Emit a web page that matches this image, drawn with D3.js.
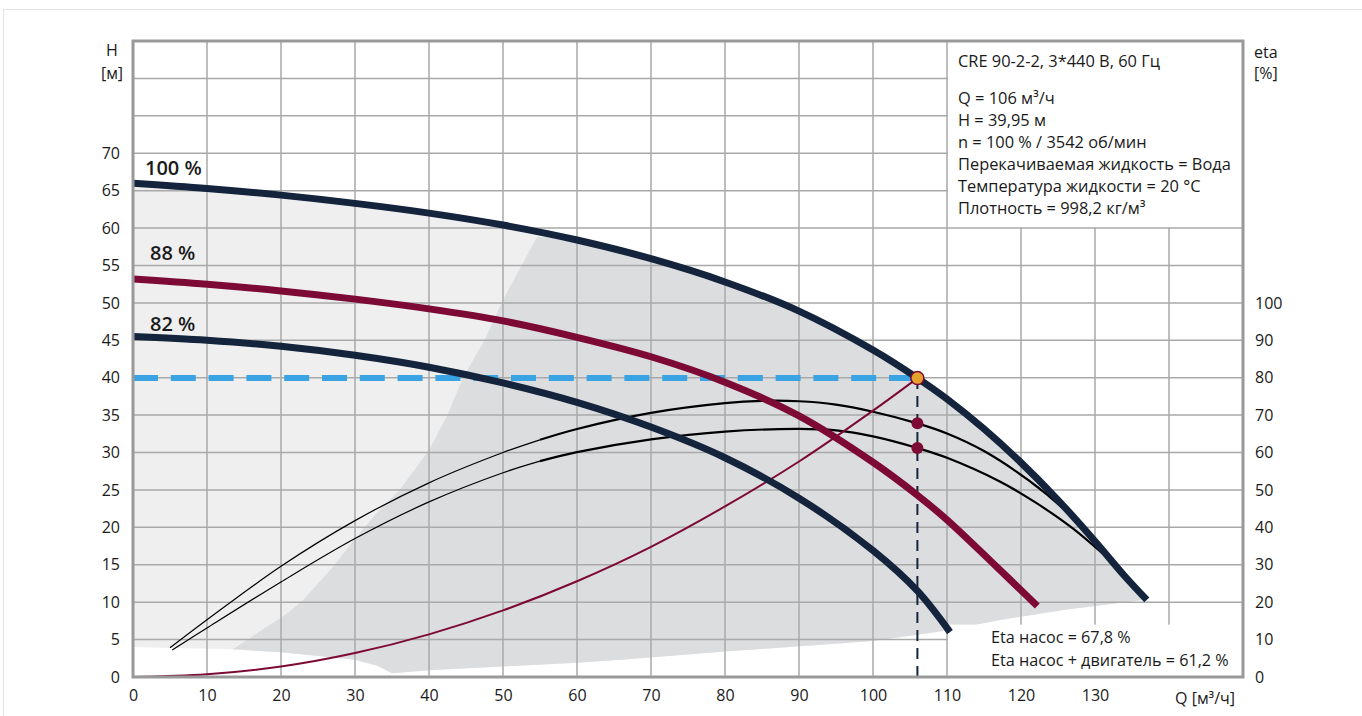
<!DOCTYPE html>
<html>
<head>
<meta charset="utf-8">
<script src="https://cdn.jsdelivr.net/npm/d3@7"></script>
<style>
body { margin: 0; background: #fff; }
svg { display: block; font-family: "Open Sans", sans-serif; }
</style>
</head>
<body>
<svg width="1362" height="716"></svg>
<script>
// tick labels
var qTicks = [0, 10, 20, 30, 40, 50, 60, 70, 80, 90, 100, 110, 120, 130];
var hTicks = [0, 5, 10, 15, 20, 25, 30, 35, 40, 45, 50, 55, 60, 65, 70];
var etaTicks = [0, 10, 20, 30, 40, 50, 60, 70, 80, 90, 100];

// pump curves [Q, H]
var h100 = [[0,66],[10,65.3],[20,64.4],[30,63.3],[40,62],[50,60.4],[60,58.4],[70,55.9],[80,52.8],[90,48.9],[100,43.7],[106,39.95],[110,37.15],[115,33.15],[120,28.65],[125,23.65],[130,18.15],[134,13.5],[137,10.3]];
var h88 = [[0,53.2],[10,52.5],[20,51.6],[30,50.5],[40,49.2],[50,47.6],[60,45.4],[70,42.8],[80,39.4],[90,34.9],[100,28.7],[106,24.3],[110,21],[116,15.4],[122.2,9.5]];
var h82 = [[0,45.5],[10,45],[20,44.2],[30,43],[40,41.4],[50,39.3],[60,36.7],[70,33.4],[80,29.3],[90,23.9],[100,16.9],[106,11.5],[110.4,6]];

// efficiency curves [Q, eta %]
var etaPump = [[5,7.8],[10,15.3],[20,29.6],[30,41.8],[40,51.9],[50,60],[55,63.4],[60,66.3],[70,70.6],[80,73.2],[85,73.8],[90,73.7],[95,72.8],[100,70.9],[106,67.8],[110,65.1],[115,60.4],[121,52.6],[126,44.5],[130,36.3],[133,29.8]];
var etaTotal = [[5.3,7.2],[10,13.1],[20,25.4],[30,37],[40,46.8],[50,54.6],[55,57.7],[60,60.1],[70,63.5],[80,65.6],[90,66.3],[95,65.9],[100,64.3],[106,61.2],[110,58.6],[117.2,52.2],[122,46.6],[127,39.7],[133,29.5]];

// system curve [Q, H]
var system = [[0,0],[10,0.36],[20,1.4],[30,3.2],[40,5.7],[50,8.9],[60,12.8],[70,17.4],[80,22.8],[90,28.8],[100,35.6],[106,39.95]];

// operating point
var duty = { q: 106, h: 39.95, etaPump: 67.8, etaTotal: 61.2 };

// shaded operating ranges [Q, H]
var grayBottom = [[136.5,10.3],[126,9],[117,7.6],[110,6.2],[100,4.8],[80,3.4],[66,2.3],[60,1.9],[50,1.4],[40,0.9],[35,0.5]];
var whiteEdge = [[33,1.5],[30,2.3],[26,2.7],[20,3.3],[13.5,3.7],[0,4]];
var darkEdge = [[13.5,3.7],[17,6],[20.8,8.5],[23,10.3],[27,14.7],[30,18.5],[33,22],[36,25],[40,30.3],[42.5,35],[44.6,40],[47.5,45],[50,50.4],[52.5,55],[54.6,58.8]];

var speedLabels = ["100 %", "88 %", "82 %"];
var infoLines = ["Q = 106 м³/ч", "H = 39,95 м", "n = 100 % / 3542 об/мин", "Перекачиваемая жидкость = Вода", "Температура жидкости = 20 °C", "Плотность = 998,2 кг/м³"];

var navy = "#14243c", crimson = "#7d0a34";

var svg = d3.select("svg");
var x = d3.scaleLinear().domain([0, 150]).range([133, 1243]);
var y = d3.scaleLinear().domain([0, 85]).range([677, 41]);
var yEta = d3.scaleLinear().domain([0, 170]).range([677, 41]);

var smooth = d3.line().x(d => x(d[0])).y(d => y(d[1])).curve(d3.curveCatmullRom.alpha(0.5));
var smoothEta = d3.line().x(d => x(d[0])).y(d => yEta(d[1])).curve(d3.curveCatmullRom.alpha(0.5));
var straight = d3.line().x(d => x(d[0])).y(d => y(d[1]));

svg.append("rect").attr("x", 3.5).attr("y", 9.5).attr("width", 1400).attr("height", 800)
	.attr("fill", "#fff").attr("stroke", "#e4e4e2");

// gray areas
svg.append("path")
	.attr("d", smooth(h100) + "L" + straight(grayBottom.concat(whiteEdge)).slice(1) + "Z")
	.attr("fill", "#efefef");
var darkTop = [[54.6, 58.8]].concat(h100.filter(d => d[0] > 57));
svg.append("path")
	.attr("d", smooth(darkTop) + "L" + straight(grayBottom.concat(whiteEdge.filter(d => d[0] >= 13.5))).slice(1)
		+ "L" + straight(darkEdge).slice(1) + "Z")
	.attr("fill", "#dcdddf");

// grid
var grid = svg.append("g").attr("stroke", "#a9a9a9").attr("stroke-width", 1.5);
grid.selectAll(".vg").data(d3.range(10, 150, 10)).enter().append("line")
	.attr("x1", d => x(d)).attr("x2", d => x(d)).attr("y1", y(0)).attr("y2", y(85));
grid.selectAll(".hg").data(d3.range(5, 85, 5)).enter().append("line")
	.attr("x1", x(0)).attr("x2", x(150)).attr("y1", d => y(d)).attr("y2", d => y(d));

// info boxes
svg.append("rect").attr("x", x(110) + 1).attr("y", y(85)).attr("width", x(150) - x(110) - 1).attr("height", y(60) - y(85) - 1).attr("fill", "#fff");
svg.append("rect").attr("x", x(110) + 1).attr("y", y(7)).attr("width", x(150) - x(110) - 1).attr("height", y(0) - y(7)).attr("fill", "#fff");

// duty dashed lines
svg.append("line").attr("x1", x(0)).attr("x2", x(duty.q)).attr("y1", y(duty.h)).attr("y2", y(duty.h))
	.attr("stroke", "#3aa3e3").attr("stroke-width", 6).attr("stroke-dasharray", "25,12.8");
svg.append("line").attr("x1", x(duty.q)).attr("x2", x(duty.q)).attr("y1", y(duty.h)).attr("y2", y(0))
	.attr("stroke", navy).attr("stroke-width", 2).attr("stroke-dasharray", "11,7");

// efficiency curves: thin start, heavier tail
[etaPump, etaTotal].forEach(s => {
	svg.append("path").attr("d", smoothEta(s.filter(d => d[0] <= 55))).attr("fill", "none").attr("stroke", "#000").attr("stroke-width", 1.2);
	svg.append("path").attr("d", smoothEta(s.filter(d => d[0] >= 55))).attr("fill", "none").attr("stroke", "#000").attr("stroke-width", 2.2);
});

svg.append("path").attr("d", smooth(system)).attr("fill", "none").attr("stroke", crimson).attr("stroke-width", 2);

// pump curves
[[h100, navy], [h88, crimson], [h82, navy]].forEach(c => {
	svg.append("path").attr("d", smooth(c[0])).attr("fill", "none")
		.attr("stroke", c[1]).attr("stroke-width", 7);
});

// points
svg.selectAll(".ep").data([duty.etaPump, duty.etaTotal]).enter().append("circle")
	.attr("cx", x(duty.q)).attr("cy", d => yEta(d)).attr("r", 6).attr("fill", crimson);
svg.append("circle").attr("cx", x(duty.q)).attr("cy", y(duty.h)).attr("r", 6.5)
	.attr("fill", "#e5a12c").attr("stroke", crimson).attr("stroke-width", 1.5);

// frame
svg.append("rect").attr("x", x(0)).attr("y", y(85)).attr("width", x(150) - x(0)).attr("height", y(0) - y(85))
	.attr("fill", "none").attr("stroke", "#999").attr("stroke-width", 3);

// axes
var fs = "16px";
var ax = svg.append("g").attr("transform", "translate(0," + y(0) + ")")
	.call(d3.axisBottom(x).tickValues(qTicks).tickSize(0).tickPadding(13));
var ay = svg.append("g").attr("transform", "translate(" + x(0) + ",0)")
	.call(d3.axisLeft(y).tickValues(hTicks).tickSize(0).tickPadding(13));
var ae = svg.append("g").attr("transform", "translate(" + x(150) + ",0)")
	.call(d3.axisRight(yEta).tickValues(etaTicks).tickSize(0).tickPadding(12));
[ax, ay, ae].forEach(a => {
	a.select(".domain").remove();
	a.selectAll("text").attr("font-size", fs).attr("fill", "#1a1a1a").attr("font-family", "Open Sans");
});

function label(tx, ty, t, size, anchor, weight) {
	svg.append("text").attr("x", tx).attr("y", ty).attr("font-size", size || fs)
		.attr("font-weight", weight || 400)
		.attr("text-anchor", anchor || "start").attr("fill", "#1a1a1a").text(t);
}
label(112, 56, "H", fs, "middle");
label(112, 79, "[м]", fs, "middle");
label(1254, 58, "eta");
label(1254, 79, "[%]");
label(1235, 704, "Q [м³/ч]", fs, "end");

label(145, 175, speedLabels[0], "20px", "start", 600);
label(150, 260, speedLabels[1], "20px", "start", 600);
label(150, 331, speedLabels[2], "20px", "start", 600);

label(958, 67, "CRE 90-2-2, 3*440 В, 60 Гц", "16.4px");
infoLines.forEach((t, i) => label(958, 104 + i * 22, t, "16.4px"));

label(991, 643, "Eta насос = 67,8 %", "16.2px");
label(991, 666, "Eta насос + двигатель = 61,2 %", "16.2px");
</script>
</body>
</html>
